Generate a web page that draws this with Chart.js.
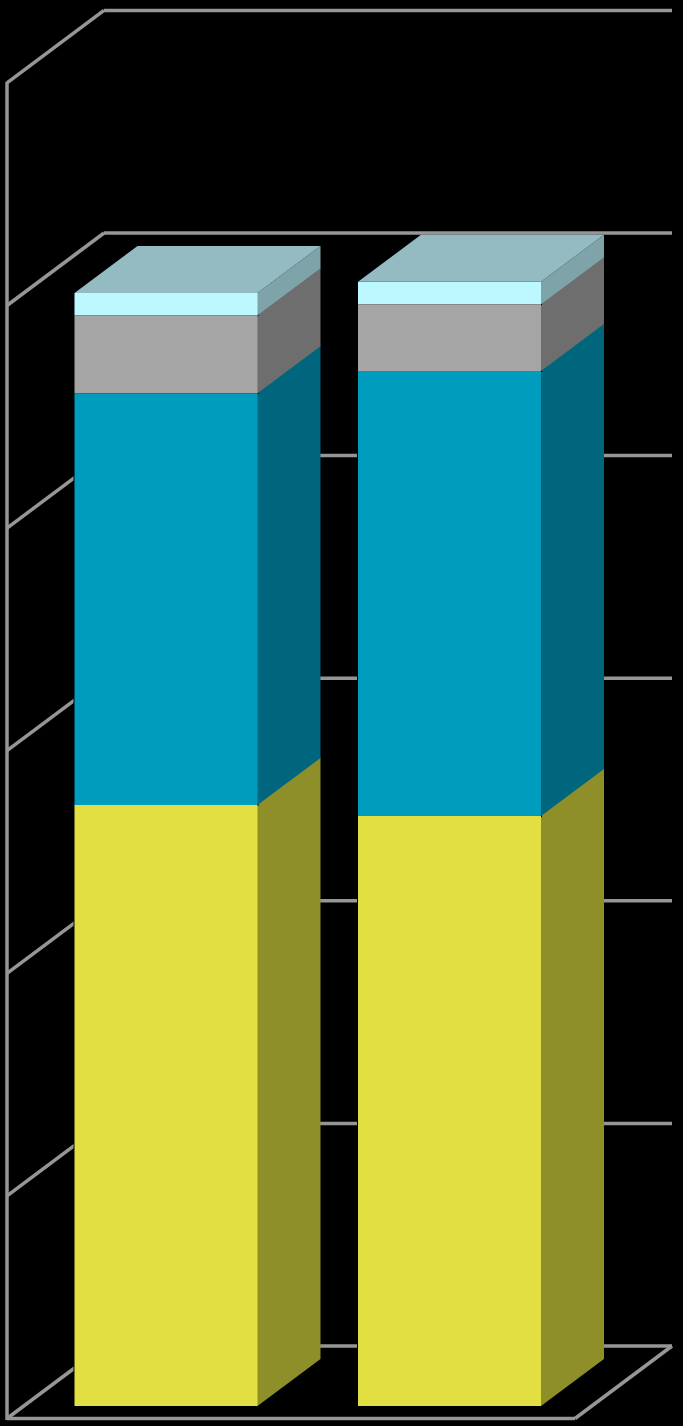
<!DOCTYPE html>
<html>
<head>
<meta charset="utf-8">
<title>Stacked 3D columns</title>
<script src="https://cdn.jsdelivr.net/npm/chart.js@4/dist/chart.umd.min.js"></script>
<style>
    html, body { margin: 0; padding: 0; background: #000; }
    canvas { display: block; }
</style>
</head>
<body>
<canvas id="chart-container" width="683" height="1426"></canvas>
<script>
// the picture has no visible labels, these names only identify the data
const categories = ["Column 1", "Column 2"];
const seriesNames = ["Series 1", "Series 2", "Series 3", "Series 4"];
const series1 = [54, 53];
const series2 = [37, 40];
const series3 = [7, 6];
const series4 = [2, 2];
const seriesValues = [series1, series2, series3, series4];

const frontColors = ["#e1df42", "#009cbd", "#a5a5a5", "#bdf7ff"];
const sideColors = ["#8f8f2a", "#00667e", "#6e6e6e", "#7ea4aa"];
const topColor = "#93bbc1";
const wallColor = "#969696";

// 3D offsets, in pixels
const barDepthX = 63;
const barDepthY = 47;
const wallDepthX = 97;
const wallDepthY = 72.5;
const floorFront = 12.5; // front edge of the floor below the bar base

function polygon(ctx, points, color) {
    ctx.fillStyle = color;
    ctx.beginPath();
    points.forEach((p, i) => (i ? ctx.lineTo(p[0], p[1]) : ctx.moveTo(p[0], p[1])));
    ctx.closePath();
    ctx.fill();
}

function segment(ctx, x1, y1, x2, y2) {
    ctx.beginPath();
    ctx.moveTo(x1, y1);
    ctx.lineTo(x2, y2);
    ctx.stroke();
}

function drawWalls(chart) {
    const ctx = chart.ctx;
    const y = chart.scales.y;
    const left = 7;
    const right = 575;
    const frontY = (v) => y.getPixelForValue(v) + floorFront;

    ctx.save();
    ctx.strokeStyle = wallColor;
    ctx.lineWidth = 3.5;
    y.ticks.forEach((tick) => {
        const fy = frontY(tick.value);
        const by = fy - wallDepthY;
        segment(ctx, left, fy, left + wallDepthX, by);
        segment(ctx, left + wallDepthX, by, right + wallDepthX, by);
    });
    segment(ctx, left, frontY(y.max) - 1, left, frontY(0) + 1.5);
    segment(ctx, left, frontY(0), right, frontY(0));
    segment(ctx, right, frontY(0), right + wallDepthX, frontY(0) - wallDepthY);
    ctx.restore();
}

const walls3d = {
    id: "walls3d",
    beforeDatasetsDraw(chart) {
        const ctx = chart.ctx;
        drawWalls(chart);

        // black under the columns so the grid does not show at their soft edges,
        // then the side faces, which the front faces overlap by a pixel
        seriesValues.forEach((values, s) => {
            chart.getDatasetMeta(s).data.forEach((bar) => {
                const l = bar.x - bar.width / 2;
                const r = bar.x + bar.width / 2;
                const up = s < seriesValues.length - 1 ? 1 : 0;
                ctx.fillStyle = "#000";
                ctx.fillRect(l - 1, bar.y - 1, bar.width + 2, bar.base - bar.y + 2);
                polygon(ctx, [
                    [r - 1, bar.y - up],
                    [r, bar.y - up],
                    [r + barDepthX, bar.y - barDepthY - up],
                    [r + barDepthX, bar.base - barDepthY],
                    [r, bar.base],
                    [r - 1, bar.base],
                ], sideColors[s]);
            });
        });
    },
    afterDatasetsDraw(chart) {
        const last = seriesValues.length - 1;
        chart.getDatasetMeta(last).data.forEach((bar) => {
            const l = bar.x - bar.width / 2;
            const r = bar.x + bar.width / 2;
            polygon(chart.ctx, [
                [l, bar.y],
                [l + barDepthX, bar.y - barDepthY],
                [r + barDepthX, bar.y - barDepthY],
                [r, bar.y],
            ], topColor);
        });
    },
};

new Chart(document.getElementById("chart-container"), {
    type: "bar",
    data: {
        labels: categories,
        datasets: seriesValues.map((values, i) => ({
            label: seriesNames[i],
            data: values,
            backgroundColor: frontColors[i],
            borderWidth: 0,
            barPercentage: 0.6455,
            categoryPercentage: 1,
        })),
    },
    options: {
        responsive: false,
        animation: false,
        devicePixelRatio: 1,
        layout: {
            padding: { left: 24.25, right: 91.75, top: 70.4, bottom: 20 },
        },
        plugins: {
            legend: { display: false },
            tooltip: { enabled: false },
        },
        scales: {
            x: { stacked: true, display: false },
            y: {
                stacked: true,
                display: false,
                min: 0,
                max: 120,
                ticks: { stepSize: 20 },
            },
        },
    },
    plugins: [walls3d],
});
</script>
</body>
</html>
